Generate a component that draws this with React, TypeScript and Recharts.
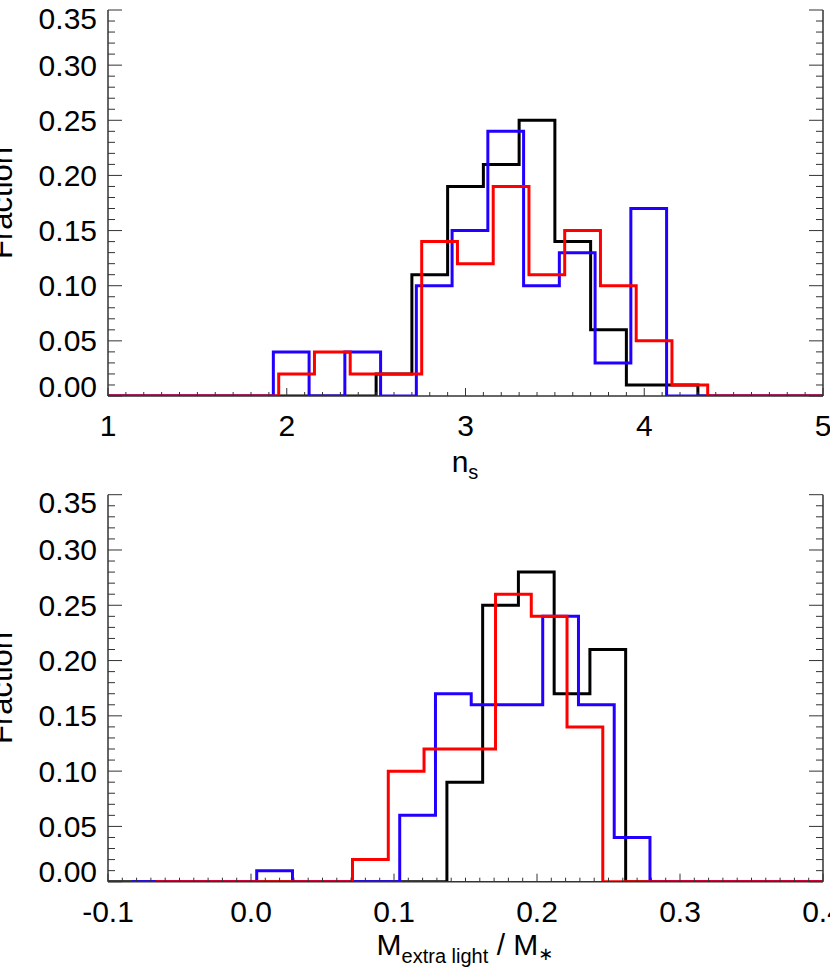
import React from 'react';
import { LineChart, Line, XAxis, YAxis } from 'recharts';

// ---------- shared y axis ----------
const yMajorTicks = [0, 0.05, 0.1, 0.15, 0.2, 0.25, 0.3, 0.35];
const yTickLabels = ['0.00', '0.05', '0.10', '0.15', '0.20', '0.25', '0.30', '0.35'];

// ---------- top panel: n_s ----------
const nsMajorTicks = [1, 2, 3, 4, 5];
const nsTickLabels = ['1', '2', '3', '4', '5'];

const nsBlackEdges = [2.5, 2.7, 2.9, 3.1, 3.3, 3.5, 3.7, 3.9, 4.1, 4.3];
const nsBlackFrac = [0.02, 0.11, 0.19, 0.21, 0.25, 0.14, 0.06, 0.01, 0.01];

const nsBlueEdges = [1.925, 2.125, 2.325, 2.525, 2.725, 2.925, 3.125, 3.325, 3.525, 3.725, 3.925, 4.125];
const nsBlueFrac = [0.04, 0.0, 0.04, 0.0, 0.1, 0.15, 0.24, 0.1, 0.13, 0.03, 0.17];

const nsRedEdges = [1.955, 2.155, 2.355, 2.555, 2.755, 2.955, 3.155, 3.355, 3.555, 3.755, 3.955, 4.155, 4.355];
const nsRedFrac = [0.02, 0.04, 0.02, 0.02, 0.14, 0.12, 0.19, 0.11, 0.15, 0.1, 0.05, 0.01];

// ---------- bottom panel: M_extra light / M_* ----------
const mMajorTicks = [-0.1, 0.0, 0.1, 0.2, 0.3, 0.4];
const mTickLabels = ['-0.1', '0.0', '0.1', '0.2', '0.3', '0.4'];

const mBlackEdges = [0.137, 0.162, 0.187, 0.212, 0.237, 0.262];
const mBlackFrac = [0.09, 0.25, 0.28, 0.17, 0.21];

const mBlueEdges = [0.004, 0.029, 0.054, 0.079, 0.104, 0.129, 0.154, 0.179, 0.204, 0.229, 0.254, 0.279];
const mBlueFrac = [0.01, 0.0, 0.0, 0.0, 0.06, 0.17, 0.16, 0.16, 0.24, 0.16, 0.04];

const mRedEdges = [0.071, 0.096, 0.121, 0.146, 0.171, 0.196, 0.221, 0.246];
const mRedFrac = [0.02, 0.1, 0.12, 0.12, 0.26, 0.24, 0.14];

const mLineStarts = { black: -0.1, blue: -0.0835, red: -0.0665 };

const BLACK = '#000000';
const BLUE = '#2200ff';
const RED = '#ff0000';
const AXIS = '#333333';
const FONT = '"Liberation Sans", Arial, Helvetica, sans-serif';

function steps(start: number, edges: number[], fracs: number[], end: number) {
  const pts: { x: number; y: number }[] = [{ x: start, y: 0 }];
  edges.forEach((e, i) => pts.push({ x: e, y: i < fracs.length ? fracs[i] : 0 }));
  pts.push({ x: end, y: 0 });
  return pts;
}

function range(a: number, b: number, step: number) {
  const n = Math.round((b - a) / step);
  return Array.from({ length: n + 1 }, (_, i) => +(a + i * step).toFixed(4));
}

const findMajor = (majors: number[], v: number) => majors.findIndex((m) => Math.abs(m - v) < 1e-6);

const makeXTick = (majors: number[], labels: string[], side: 'bottom' | 'top') => (props: any) => {
  const { x, y, payload } = props;
  const idx = findMajor(majors, payload.value);
  const len = idx >= 0 ? 8 : 4;
  const dir = side === 'bottom' ? -1 : 1;
  return (
    <g>
      <line x1={x} x2={x} y1={y} y2={y + dir * len} stroke={AXIS} strokeWidth={1} />
      {side === 'bottom' && idx >= 0 && (
        <text x={x} y={y + 40} textAnchor="middle" fontSize={30} fontFamily={FONT} fill="#000">
          {labels[idx]}
        </text>
      )}
    </g>
  );
};

const makeYTick = (side: 'left' | 'right') => (props: any) => {
  const { x, y, payload } = props;
  const idx = findMajor(yMajorTicks, payload.value);
  const len = idx >= 0 ? 14 : 7;
  const dir = side === 'left' ? 1 : -1;
  let shift = 0;
  if (idx === 0) shift = -10;
  if (idx === yMajorTicks.length - 1) shift = 8;
  return (
    <g>
      <line x1={x} x2={x + dir * len} y1={y} y2={y} stroke={AXIS} strokeWidth={1} />
      {side === 'left' && idx >= 0 && (
        <text x={x - 11} y={y + shift} textAnchor="end" dominantBaseline="central" fontSize={30} fontFamily={FONT} fill="#000">
          {yTickLabels[idx]}
        </text>
      )}
    </g>
  );
};

const YTitle = (props: any) => {
  const cy = props.cy as number;
  return (
    <text x={12} y={cy} transform={`rotate(-90 12 ${cy})`} textAnchor="middle" fontSize={31} fontFamily={FONT} fill="#000">
      Fraction
    </text>
  );
};

const NsTitle = () => (
  <text x={465} y={472} textAnchor="middle" fontSize={30} fontFamily={FONT} fill="#000">
    n
    <tspan fontSize={20} dy={7}>s</tspan>
  </text>
);

const MTitle = () => (
  <text x={465} y={471} textAnchor="middle" fontSize={30} fontFamily={FONT} fill="#000">
    M
    <tspan fontSize={20} dy={8}>extra light</tspan>
    <tspan fontSize={30} dy={-8}> / M</tspan>
    <tspan fontSize={18} dy={5} fontFamily={'"DejaVu Sans", sans-serif'}>∗</tspan>
  </text>
);

const W = 830;

function Panel(props: {
  height: number;
  top: number;
  marginTop: number;
  xAxisHeight: number;
  domain: [number, number];
  majors: number[];
  labels: string[];
  minorStep: number;
  series: { data: { x: number; y: number }[]; color: string; name: string }[];
  xTitle: React.ReactElement;
  titleCy: number;
}) {
  const { height, top, marginTop, xAxisHeight, domain, majors, labels, minorStep, series, xTitle, titleCy } = props;
  const xTicks = range(domain[0], domain[1], minorStep);
  const yTicks = range(0, 0.35, 0.01);
  return (
    <div style={{ position: 'absolute', left: 0, top }}>
      <LineChart width={W} height={height} margin={{ top: marginTop, right: 0, bottom: 0, left: 0 }}>
        <XAxis
          xAxisId="b"
          dataKey="x"
          type="number"
          domain={domain}
          allowDataOverflow
          ticks={xTicks}
          interval={0}
          tickSize={0}
          tickMargin={0}
          tickLine={false}
          tick={makeXTick(majors, labels, 'bottom')}
          axisLine={{ stroke: AXIS, strokeWidth: 1.5 }}
          height={xAxisHeight}
          orientation="bottom"
          label={xTitle}
        />
        <XAxis
          xAxisId="t"
          dataKey="x"
          type="number"
          domain={domain}
          allowDataOverflow
          ticks={xTicks}
          interval={0}
          tickSize={0}
          tickMargin={0}
          tickLine={false}
          tick={makeXTick(majors, labels, 'top')}
          axisLine={{ stroke: AXIS, strokeWidth: 1.5 }}
          height={0}
          orientation="top"
        />
        <YAxis
          yAxisId="l"
          type="number"
          domain={[0, 0.35]}
          allowDataOverflow
          ticks={yTicks}
          interval={0}
          tickSize={0}
          tickMargin={0}
          tickLine={false}
          tick={makeYTick('left')}
          axisLine={{ stroke: AXIS, strokeWidth: 1.5 }}
          width={108}
          orientation="left"
          label={<YTitle cy={titleCy} />}
        />
        <YAxis
          yAxisId="r"
          type="number"
          domain={[0, 0.35]}
          allowDataOverflow
          ticks={yTicks}
          interval={0}
          tickSize={0}
          tickMargin={0}
          tickLine={false}
          tick={makeYTick('right')}
          axisLine={{ stroke: AXIS, strokeWidth: 1.5 }}
          width={7}
          orientation="right"
        />
        {series.map((s) => (
          <Line
            key={s.name}
            xAxisId="b"
            yAxisId="l"
            data={s.data}
            dataKey="y"
            type="stepAfter"
            stroke={s.color}
            strokeWidth={3}
            dot={false}
            activeDot={false}
            isAnimationActive={false}
          />
        ))}
      </LineChart>
    </div>
  );
}

export default function App() {
  const nsSeries = [
    { name: 'black', color: BLACK, data: steps(1, nsBlackEdges, nsBlackFrac, 5) },
    { name: 'blue', color: BLUE, data: steps(1, nsBlueEdges, nsBlueFrac, 5) },
    { name: 'red', color: RED, data: steps(1, nsRedEdges, nsRedFrac, 5) },
  ];
  const mSeries = [
    { name: 'black', color: BLACK, data: steps(mLineStarts.black, mBlackEdges, mBlackFrac, 0.4) },
    { name: 'blue', color: BLUE, data: steps(mLineStarts.blue, mBlueEdges, mBlueFrac, 0.4) },
    { name: 'red', color: RED, data: steps(mLineStarts.red, mRedEdges, mRedFrac, 0.4) },
  ];
  return (
    <div style={{ position: 'absolute', left: 0, top: 0, width: 830, height: 967, background: '#fff', overflow: 'hidden' }}>
      <Panel
        height={484}
        top={0}
        marginTop={10}
        xAxisHeight={88}
        domain={[1, 5]}
        majors={nsMajorTicks}
        labels={nsTickLabels}
        minorStep={0.1}
        series={nsSeries}
        xTitle={<NsTitle />}
        titleCy={203}
      />
      <Panel
        height={483}
        top={484}
        marginTop={10.7}
        xAxisHeight={85.3}
        domain={[-0.1, 0.4]}
        majors={mMajorTicks}
        labels={mTickLabels}
        minorStep={0.01}
        series={mSeries}
        xTitle={<MTitle />}
        titleCy={204}
      />
    </div>
  );
}
